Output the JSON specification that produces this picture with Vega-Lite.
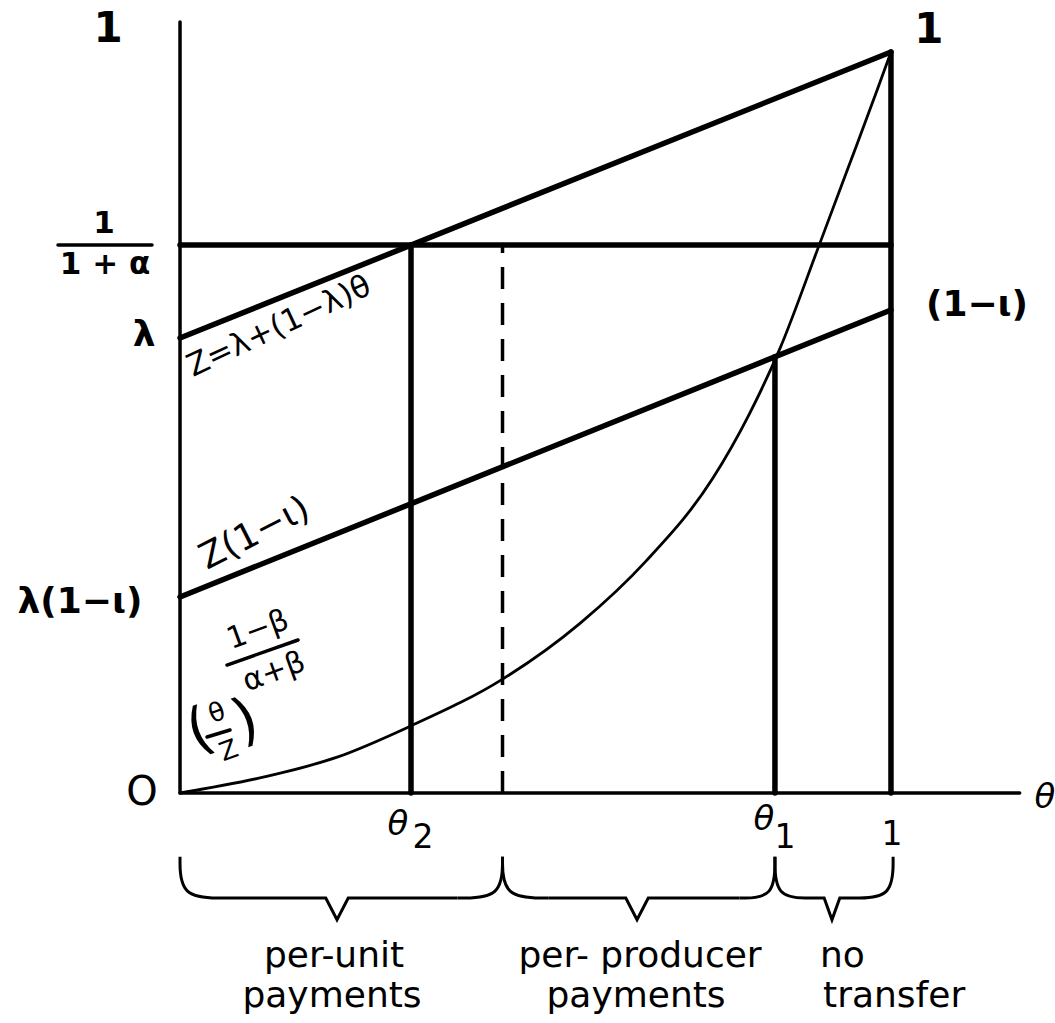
{
  "$schema": "https://vega.github.io/schema/vega-lite/v6.json",
  "width": 1055,
  "height": 1023,
  "autosize": {"type": "none"},
  "padding": 0,
  "background": "white",
  "config": {"view": {"stroke": null}},
  "encoding": {
    "x": {"field": "x", "type": "quantitative", "scale": {"domain": [-0.2532, 1.2307], "nice": false, "zero": false}, "axis": null},
    "y": {"field": "y", "type": "quantitative", "scale": {"domain": [-0.3104, 1.0702], "nice": false, "zero": false}, "axis": null}
  },
  "layer": [
    {
      "data": {"values": [
        {"id": "Z", "k": 0, "x": 0, "y": 0.614},
        {"id": "Z", "k": 1, "x": 1, "y": 1},
        {"id": "h", "k": 0, "x": 0, "y": 0.7395},
        {"id": "h", "k": 1, "x": 1, "y": 0.7395},
        {"id": "Zi", "k": 0, "x": 0, "y": 0.2645},
        {"id": "Zi", "k": 1, "x": 1, "y": 0.6518},
        {"id": "t2", "k": 0, "x": 0.3249, "y": 0},
        {"id": "t2", "k": 1, "x": 0.3249, "y": 0.7395},
        {"id": "t1", "k": 0, "x": 0.8368, "y": 0},
        {"id": "t1", "k": 1, "x": 0.8368, "y": 0.5886},
        {"id": "r", "k": 0, "x": 1, "y": 0},
        {"id": "r", "k": 1, "x": 1, "y": 1}
      ]},
      "mark": {"type": "line", "color": "black", "strokeWidth": 5.5, "strokeCap": "round"},
      "encoding": {"detail": {"field": "id"}, "order": {"field": "k"}}
    },
    {
      "data": {"values": [
        {"id": "v", "k": 0, "x": 0, "y": 0},
        {"id": "v", "k": 1, "x": 0, "y": 1.0405},
        {"id": "hz", "k": 0, "x": 0, "y": 0},
        {"id": "hz", "k": 1, "x": 1.181, "y": 0}
      ]},
      "mark": {"type": "line", "color": "black", "strokeWidth": 3.5, "strokeCap": "round"},
      "encoding": {"detail": {"field": "id"}, "order": {"field": "k"}}
    },
    {
      "data": {"values": [
        {"k": 0, "x": 0.4536, "y": 0},
        {"k": 1, "x": 0.4536, "y": 0.7395}
      ]},
      "mark": {"type": "line", "color": "black", "strokeWidth": 3.5, "strokeDash": [22, 14]},
      "encoding": {"order": {"field": "k"}}
    },
    {
      "data": {"values": [
        {"x": 0, "y": 0},
        {"x": 0.12, "y": 0.022},
        {"x": 0.22, "y": 0.048},
        {"x": 0.3235, "y": 0.09},
        {"x": 0.4543, "y": 0.154},
        {"x": 0.5626, "y": 0.229},
        {"x": 0.6554, "y": 0.313},
        {"x": 0.7496, "y": 0.425},
        {"x": 0.8, "y": 0.51},
        {"x": 0.8439, "y": 0.6},
        {"x": 0.8973, "y": 0.735},
        {"x": 0.9395, "y": 0.843},
        {"x": 0.9803, "y": 0.948},
        {"x": 1, "y": 1}
      ]},
      "mark": {"type": "line", "color": "black", "strokeWidth": 2.8, "interpolate": "monotone"}
    },
    {
      "data": {"values": [
        {"id": "b1L", "k": 0, "x": 0, "y": -0.086},
        {"id": "b1L", "k": 1, "x": 0, "y": -0.1417},
        {"id": "b1L", "k": 2, "x": 0.0633, "y": -0.1417},
        {"id": "b1R", "k": 0, "x": 0.3903, "y": -0.1417},
        {"id": "b1R", "k": 1, "x": 0.4536, "y": -0.1417},
        {"id": "b1R", "k": 2, "x": 0.4536, "y": -0.086},
        {"id": "b2L", "k": 0, "x": 0.4536, "y": -0.086},
        {"id": "b2L", "k": 1, "x": 0.4536, "y": -0.1417},
        {"id": "b2L", "k": 2, "x": 0.5186, "y": -0.1417},
        {"id": "b2R", "k": 0, "x": 0.7868, "y": -0.1417},
        {"id": "b2R", "k": 1, "x": 0.8368, "y": -0.1417},
        {"id": "b2R", "k": 2, "x": 0.8368, "y": -0.086},
        {"id": "b3L", "k": 0, "x": 0.8368, "y": -0.086},
        {"id": "b3L", "k": 1, "x": 0.8368, "y": -0.1417},
        {"id": "b3L", "k": 2, "x": 0.8875, "y": -0.1417},
        {"id": "b3R", "k": 0, "x": 0.9466, "y": -0.1417},
        {"id": "b3R", "k": 1, "x": 1.003, "y": -0.1417},
        {"id": "b3R", "k": 2, "x": 1.003, "y": -0.086}
      ]},
      "mark": {"type": "line", "color": "black", "strokeWidth": 3, "interpolate": "basis"},
      "encoding": {"detail": {"field": "id"}, "order": {"field": "k"}}
    },
    {
      "data": {"values": [
        {"id": "m1", "k": 0, "x": 0.0633, "y": -0.1417},
        {"id": "m1", "k": 1, "x": 0.205, "y": -0.1417},
        {"id": "m1", "k": 2, "x": 0.2208, "y": -0.171},
        {"id": "m1", "k": 3, "x": 0.2366, "y": -0.1417},
        {"id": "m1", "k": 4, "x": 0.3903, "y": -0.1417},
        {"id": "m2", "k": 0, "x": 0.5186, "y": -0.1417},
        {"id": "m2", "k": 1, "x": 0.627, "y": -0.1417},
        {"id": "m2", "k": 2, "x": 0.6428, "y": -0.171},
        {"id": "m2", "k": 3, "x": 0.6586, "y": -0.1417},
        {"id": "m2", "k": 4, "x": 0.7868, "y": -0.1417},
        {"id": "m3", "k": 0, "x": 0.8875, "y": -0.1417},
        {"id": "m3", "k": 1, "x": 0.906, "y": -0.1417},
        {"id": "m3", "k": 2, "x": 0.917, "y": -0.171},
        {"id": "m3", "k": 3, "x": 0.928, "y": -0.1417},
        {"id": "m3", "k": 4, "x": 0.9466, "y": -0.1417}
      ]},
      "mark": {"type": "line", "color": "black", "strokeWidth": 3, "strokeJoin": "miter"},
      "encoding": {"detail": {"field": "id"}, "order": {"field": "k"}}
    },
    {
      "data": {"values": [
        {"id": "f1", "k": 0, "x": -0.1716, "y": 0.7395},
        {"id": "f1", "k": 1, "x": -0.0394, "y": 0.7395},
        {"id": "f2", "k": 0, "x": 0.0661, "y": 0.1727},
        {"id": "f2", "k": 1, "x": 0.1660, "y": 0.2065},
        {"id": "f3", "k": 0, "x": 0.0380, "y": 0.0756},
        {"id": "f3", "k": 1, "x": 0.0703, "y": 0.0850}
      ]},
      "mark": {"type": "line", "color": "black", "strokeWidth": 3.5, "strokeCap": "round"},
      "encoding": {"detail": {"field": "id"}, "order": {"field": "k"}}
    },
    {
      "data": {"values": [
        {"x": -0.1013, "y": 1.031, "t": "1"},
        {"x": 1.0534, "y": 1.0297, "t": "1"}
      ]},
      "mark": {"type": "text", "font": "DejaVu Sans", "fontSize": 42, "fontWeight": "bold", "align": "center", "baseline": "middle"},
      "encoding": {"text": {"field": "t"}}
    },
    {
      "data": {"values": [
        {"x": -0.1069, "y": 0.7679, "t": "1"},
        {"x": -0.1055, "y": 0.7126, "t": "1 + α"}
      ]},
      "mark": {"type": "text", "font": "DejaVu Sans", "fontSize": 31, "fontWeight": "bold", "align": "center", "baseline": "middle"},
      "encoding": {"text": {"field": "t"}}
    },
    {
      "data": {"values": [
        {"x": -0.0506, "y": 0.6181, "t": "λ"},
        {"x": -0.1406, "y": 0.2578, "t": "λ(1−ι)"},
        {"x": 1.121, "y": 0.6586, "t": "(1−ι)"}
      ]},
      "mark": {"type": "text", "font": "DejaVu Sans", "fontSize": 36, "fontWeight": "bold", "align": "center", "baseline": "middle"},
      "encoding": {"text": {"field": "t"}}
    },
    {
      "data": {"values": [
        {"x": -0.0534, "y": 0, "t": "O"}
      ]},
      "mark": {"type": "text", "font": "DejaVu Sans", "fontSize": 40, "align": "center", "baseline": "middle"},
      "encoding": {"text": {"field": "t"}}
    },
    {
      "data": {"values": [
        {"x": 1.2166, "y": -0.0067, "t": "θ"},
        {"x": 0.3066, "y": -0.0432, "t": "θ"},
        {"x": 0.8214, "y": -0.0364, "t": "θ"}
      ]},
      "mark": {"type": "text", "font": "DejaVu Sans", "fontSize": 34, "fontStyle": "italic", "align": "center", "baseline": "middle"},
      "encoding": {"text": {"field": "t"}}
    },
    {
      "data": {"values": [
        {"x": 0.3418, "y": -0.0607, "t": "2"},
        {"x": 0.8509, "y": -0.0607, "t": "1"},
        {"x": 1.0014, "y": -0.0567, "t": "1"}
      ]},
      "mark": {"type": "text", "font": "DejaVu Sans", "fontSize": 33, "align": "center", "baseline": "middle"},
      "encoding": {"text": {"field": "t"}}
    },
    {
      "data": {"values": [
        {"x": 0.2166, "y": -0.2348, "t": "per-unit"},
        {"x": 0.2138, "y": -0.2888, "t": "payments"},
        {"x": 0.647, "y": -0.2348, "t": "per- producer"},
        {"x": 0.6414, "y": -0.2888, "t": "payments"}
      ]},
      "mark": {"type": "text", "font": "DejaVu Sans", "fontSize": 36, "align": "center", "baseline": "alphabetic"},
      "encoding": {"text": {"field": "t"}}
    },
    {
      "data": {"values": [
        {"x": 0.9001, "y": -0.2348, "t": "no"},
        {"x": 0.9044, "y": -0.2888, "t": "transfer"}
      ]},
      "mark": {"type": "text", "font": "DejaVu Sans", "fontSize": 36, "align": "left", "baseline": "alphabetic"},
      "encoding": {"text": {"field": "t"}}
    },
    {
      "data": {"values": [
        {"x": 0.0183, "y": 0.5614, "t": "Z=λ+(1−λ)θ"}
      ]},
      "mark": {"type": "text", "font": "DejaVu Sans", "fontSize": 31, "angle": 335, "align": "left", "baseline": "alphabetic"},
      "encoding": {"text": {"field": "t"}}
    },
    {
      "data": {"values": [
        {"x": 0.038, "y": 0.301, "t": "Z(1−ι)"}
      ]},
      "mark": {"type": "text", "font": "DejaVu Sans", "fontSize": 36, "angle": 333, "align": "left", "baseline": "alphabetic"},
      "encoding": {"text": {"field": "t"}}
    },
    {
      "data": {"values": [
        {"x": 0.1097, "y": 0.2200, "t": "1−β"},
        {"x": 0.1322, "y": 0.1633, "t": "α+β"}
      ]},
      "mark": {"type": "text", "font": "DejaVu Sans", "fontSize": 30, "angle": 340, "align": "center", "baseline": "middle"},
      "encoding": {"text": {"field": "t"}}
    },
    {
      "data": {"values": [
        {"x": 0.0520, "y": 0.1080, "t": "θ"},
        {"x": 0.0689, "y": 0.0567, "t": "Z"}
      ]},
      "mark": {"type": "text", "font": "DejaVu Sans", "fontSize": 26, "angle": 340, "align": "center", "baseline": "middle"},
      "encoding": {"text": {"field": "t"}}
    },
    {
      "data": {"values": [
        {"x": 0.0281, "y": 0.0823, "t": "("},
        {"x": 0.0928, "y": 0.0958, "t": ")"}
      ]},
      "mark": {"type": "text", "font": "DejaVu Sans", "fontSize": 58, "angle": 340, "align": "center", "baseline": "middle"},
      "encoding": {"text": {"field": "t"}}
    }
  ]
}
